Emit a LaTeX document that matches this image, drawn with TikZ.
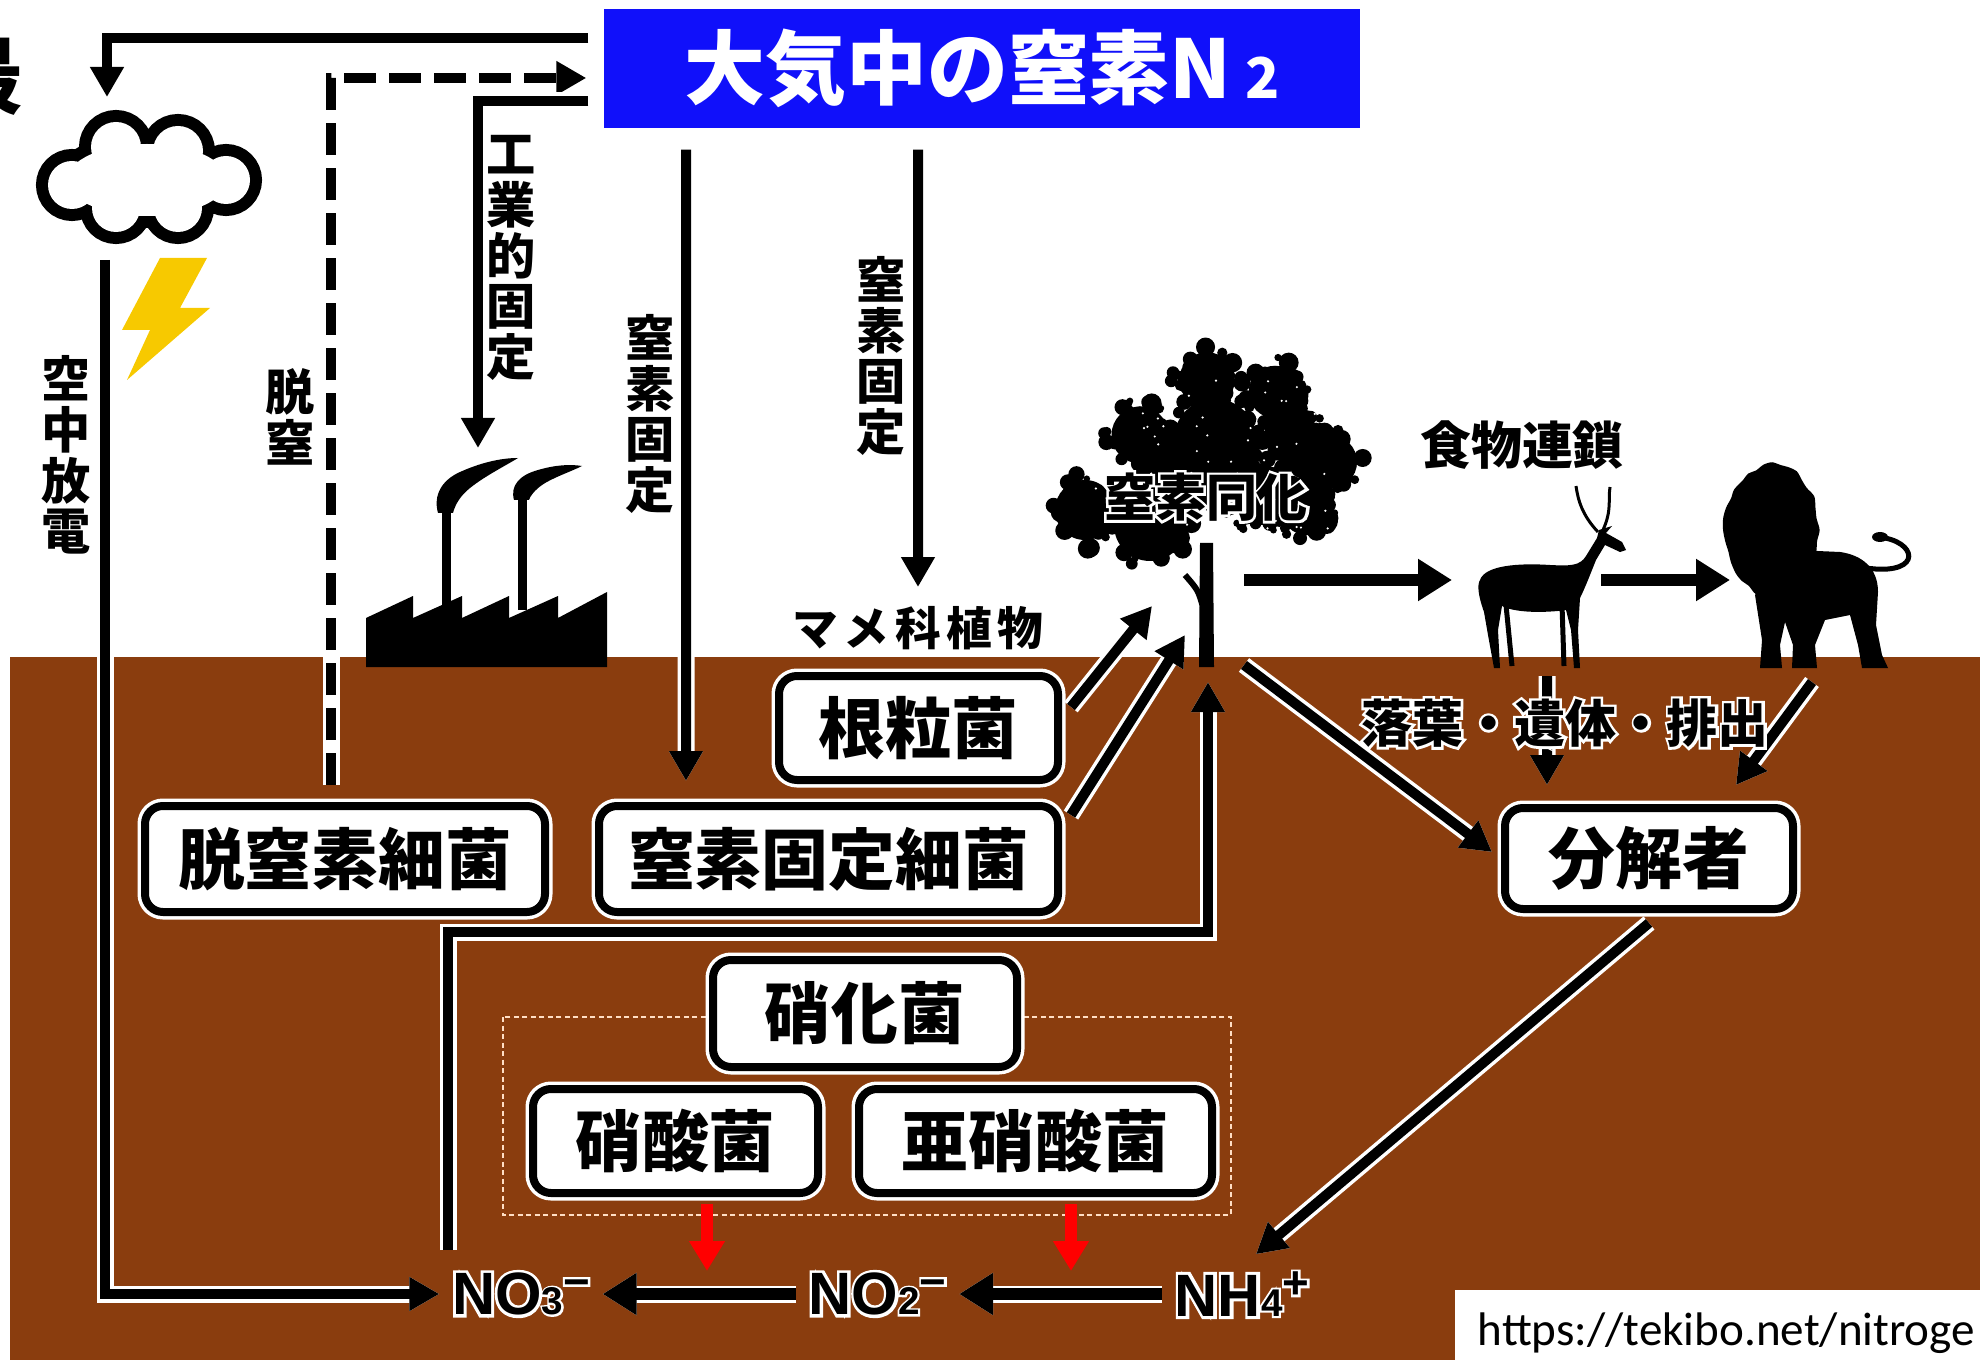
\documentclass[tikz,border=0pt]{standalone}
\usepackage{fontspec}
\usepackage{tikz}
\usetikzlibrary{positioning,arrows.meta,calc}

\newfontfamily\jp{Noto Sans CJK JP}
\newfontfamily\ionfont{Liberation Sans}
\newfontfamily\urlfont{Carlito}

\definecolor{soil}{RGB}{138,61,14}
\definecolor{airblue}{RGB}{16,16,250}
\definecolor{bolt}{RGB}{247,201,0}
\definecolor{peach}{RGB}{255,222,196}

% white rim behind black lettering
\newcommand\halo[1]{\leavevmode\rlap{\color{white}\addfontfeature{FakeBold=10}#1}#1}

\begin{document}
\begin{tikzpicture}[
  box/.style={draw=black, line width=0.08cm, fill=white, rounded corners=0.18cm, minimum height=1.04cm, inner sep=0pt, font=\jp\bfseries\fontsize{19}{20}\selectfont, preaction={draw=white, line width=0.15cm}},
  vlbl/.style={font=\jp\bfseries\fontsize{14}{14.4}\selectfont, align=center, inner sep=0pt},
  lbl/.style={font=\jp\bfseries\fontsize{14.5}{16}\selectfont, inner sep=1pt},
  ion/.style={font=\ionfont\bfseries\fontsize{17}{18}\selectfont, inner sep=0.12cm},
  glow/.style={preaction={draw=white, line width=0.17cm, solid}},
  flow/.style={glow, draw=black, line width=0.1cm, -{Triangle[length=0.3cm, width=0.32cm]}},
  fatflow/.style={glow, draw=black, line width=0.12cm, -{Triangle[length=0.34cm, width=0.4cm]}},
  redflow/.style={draw=red, line width=0.12cm, -{Triangle[length=0.3cm, width=0.34cm]}}
]
\useasboundingbox (0, 0) rectangle (19.80, -13.60);

% ground
\fill[soil] (0.10, -6.57) rectangle (19.80, -13.60);

% cut-off heading at the left edge
\node[font=\jp\bfseries\fontsize{24}{24}\selectfont, inner sep=0pt] (title) at (-0.18, -0.77) {最};

% thundercloud
\fill[white, preaction={draw=black, line width=0.24cm}]
  (1.16, -1.47) circle (0.25) (1.78, -1.51) circle (0.25)
  (0.72, -1.85) circle (0.24) (2.26, -1.80) circle (0.24)
  (1.16, -2.08) circle (0.24) (1.78, -2.08) circle (0.24)
  (1.47, -1.80) ellipse (0.80 and 0.36);
\fill[bolt] (1.60, -2.58) -- (2.07, -2.58) -- (1.80, -3.08) -- (2.10, -3.08) -- (1.27, -3.80) -- (1.50, -3.30) -- (1.22, -3.30) -- cycle;
\coordinate (cloudtop) at (1.07, -0.97);
\coordinate (cloudfoot) at (1.05, -2.60);

% factory
\fill (3.66, -6.67) -- (3.66, -6.18) -- (4.13, -5.96) -- (4.13, -6.18) -- (4.62, -5.96) -- (4.62, -6.18)
  -- (5.09, -5.96) -- (5.09, -6.18) -- (5.58, -5.96) -- (5.58, -6.18) -- (6.07, -5.92) -- (6.07, -6.67) -- cycle;
\fill (4.42, -5.13) rectangle (4.51, -6.10);
\fill (5.18, -5.00) rectangle (5.27, -6.10);
\fill (4.38, -5.13) .. controls (4.33, -4.95) and (4.42, -4.80) .. (4.60, -4.72)
  .. controls (4.80, -4.63) and (5.00, -4.58) .. (5.18, -4.58)
  .. controls (5.05, -4.66) and (4.85, -4.76) .. (4.70, -4.88)
  .. controls (4.60, -4.96) and (4.55, -5.05) .. (4.53, -5.13) -- cycle;
\fill (5.14, -5.00) .. controls (5.10, -4.85) and (5.20, -4.75) .. (5.38, -4.70)
  .. controls (5.55, -4.65) and (5.70, -4.64) .. (5.82, -4.66)
  .. controls (5.70, -4.72) and (5.52, -4.78) .. (5.42, -4.85)
  .. controls (5.35, -4.90) and (5.30, -4.96) .. (5.29, -5.00) -- cycle;
\coordinate (factop) at (4.78, -4.48);

% tree: foliage clumps filled with scattered leaves
\pgfmathsetseed{31}
\foreach \cx/\cy/\r in {12.07/-3.80/0.37, 12.75/-3.92/0.35, 11.40/-4.35/0.38, 12.15/-4.40/0.55,
                        12.95/-4.40/0.35, 13.30/-4.62/0.36, 11.80/-4.85/0.45, 12.60/-4.95/0.40,
                        13.05/-5.12/0.30, 10.85/-5.10/0.40, 11.50/-5.25/0.48}
{
  \fill (\cx, \cy) circle ({0.75*\r});
  \foreach \k in {1,...,45}
    \fill ($(\cx, \cy)+({rnd*360}:{\r*sqrt(rnd)})$) circle ({0.03+rnd*0.07});
}
\foreach \k in {1,...,70}
  \fill[white] ({10.9+rnd*2.5}, {-3.8-rnd*1.6}) circle (0.012);
\fill (12.00, -5.43) -- (12.13, -5.43) -- (12.14, -6.67) -- (11.99, -6.67) -- cycle;
\draw[line width=0.06cm] (12.03, -6.07) .. controls (11.98, -5.90) .. (11.85, -5.75);
\node[lbl] (lblassim) at (12.06, -4.97) {\halo{窒素同化}};
\coordinate (treeroot) at (12.08, -6.82);
\coordinate (root1) at (11.52, -6.06);
\coordinate (root2) at (11.85, -6.35);
\coordinate (treeside) at (12.44, -5.80);
\coordinate (treefoot) at (12.44, -6.65);

% antelope
\fill (14.80, -5.80) .. controls (14.85, -5.65) and (15.20, -5.63) .. (15.50, -5.65)
  .. controls (15.70, -5.66) and (15.80, -5.66) .. (15.86, -5.56)
  -- (15.97, -5.38) -- (15.99, -5.30) -- (16.12, -5.26) -- (16.06, -5.33) -- (16.22, -5.42)
  -- (16.26, -5.50) -- (16.20, -5.52) -- (16.05, -5.45) -- (15.96, -5.60)
  .. controls (15.90, -5.75) and (15.85, -5.88) .. (15.80, -5.98)
  -- (15.78, -6.30) -- (15.80, -6.68) -- (15.74, -6.68) -- (15.71, -6.30) -- (15.66, -6.10)
  .. controls (15.45, -6.13) and (15.15, -6.13) .. (15.02, -6.06)
  -- (14.98, -6.30) -- (15.00, -6.68) -- (14.94, -6.68) -- (14.88, -6.35) -- (14.84, -6.12)
  .. controls (14.78, -5.95) and (14.77, -5.85) .. cycle;
\draw[line width=0.05cm] (15.62, -6.05) -- (15.64, -6.66);
\draw[line width=0.05cm] (15.06, -6.05) -- (15.12, -6.66);
\draw[line width=0.03cm] (15.98, -5.32) .. controls (15.82, -5.15) and (15.78, -5.00) .. (15.76, -4.86);
\draw[line width=0.03cm] (16.03, -5.30) .. controls (16.12, -5.10) and (16.08, -5.00) .. (16.10, -4.87);
\coordinate (deerL) at (14.52, -5.80);
\coordinate (deerR) at (16.01, -5.80);
\coordinate (deerfoot) at (15.47, -6.76);

% lion: ragged mane, body, tail
\fill plot[smooth cycle, domain=0:350, samples=36] ({17.72+(0.45+0.05*rnd)*cos(\x)}, {-5.30+(0.63+0.05*rnd)*sin(\x)});
\fill (17.95, -5.50) -- (18.40, -5.52) .. controls (18.62, -5.55) and (18.78, -5.68) .. (18.78, -5.92)
  -- (18.76, -6.25) -- (18.82, -6.55) -- (18.88, -6.68) -- (18.62, -6.68) -- (18.58, -6.45)
  -- (18.50, -6.15) -- (18.25, -6.20) -- (18.15, -6.45) -- (18.17, -6.68) -- (17.92, -6.68)
  -- (17.93, -6.45) -- (17.85, -6.22) -- (17.80, -6.45) -- (17.82, -6.68) -- (17.60, -6.68)
  -- (17.62, -6.40) -- (17.55, -5.95) -- cycle;
\draw[line width=0.05cm] (18.60, -5.67) .. controls (19.20, -5.78) and (19.20, -5.45) .. (18.85, -5.38);
\fill (18.80, -5.37) ellipse (0.08 and 0.05);
\coordinate (lionL) at (17.30, -5.80);
\coordinate (lionfoot) at (18.12, -6.82);

% nitrifier group frame
\draw[peach, line width=0.02cm, dash pattern=on 0.05cm off 0.035cm] (5.03, -10.17) rectangle (12.31, -12.15);

% boxes
\node[draw=none, fill=airblue, minimum width=7.56cm, minimum height=1.19cm, inner sep=0pt, text=white,
      font=\jp\bfseries\fontsize{23}{24}\selectfont] (air) at (9.82, -0.685) {大気中の窒素N\,{\fontsize{16}{16}\selectfont 2}};
\node[box, minimum width=4.00cm, minimum height=1.06cm] (denit) at (3.45, -8.59) {脱窒素細菌};
\node[box, minimum width=4.59cm, minimum height=1.06cm] (fixb) at (8.285, -8.59) {窒素固定細菌};
\node[box, minimum width=2.79cm] (nodule) at (9.185, -7.28) {根粒菌};
\node[box, minimum width=3.04cm, minimum height=1.07cm] (nitri) at (8.65, -10.135) {硝化菌};
\node[box, minimum width=2.85cm] (nitrob) at (6.755, -11.41) {硝酸菌};
\node[box, minimum width=3.53cm] (nitros) at (10.355, -11.41) {亜硝酸菌};
\node[box, minimum width=2.88cm, minimum height=1.01cm] (decomp) at (16.49, -8.585) {分解者};

% labels
\node[vlbl] (lblspark) at (0.66, -4.55) {空\\中\\放\\電};
\node[vlbl] (lbldenit) at (2.90, -4.17) {脱\\窒};
\node[vlbl] (lblind) at (5.11, -2.58) {工\\業\\的\\固\\定};
\node[vlbl] (lblfixA) at (6.50, -4.14) {窒\\素\\固\\定};
\node[vlbl] (lblfixB) at (8.81, -3.56) {窒\\素\\固\\定};
\node[font=\jp\bfseries\fontsize{13}{14}\selectfont\addfontfeature{LetterSpace=12}, inner sep=1pt] (lbllegume) at (9.18, -6.28) {マメ科植物};
\node[lbl] (lblfood) at (15.22, -4.45) {食物連鎖};

% ions
\node[ion] (no3) at (5.21, -12.94) {\halo{NO{\fontsize{11}{11}\selectfont 3\raisebox{0.45em}{\fontsize{13}{13}\selectfont −}}}};
\node[ion] (no2) at (8.775, -12.94) {\halo{NO{\fontsize{11}{11}\selectfont 2\raisebox{0.45em}{\fontsize{13}{13}\selectfont −}}}};
\node[ion] (nh4) at (12.42, -12.94) {\halo{NH{\fontsize{11}{11}\selectfont 4\raisebox{0.45em}{\fontsize{13}{13}\selectfont +}}}};

% atmosphere
\draw[flow] ([xshift=-0.15cm, yshift=0.305cm]air.west) -| (cloudtop);
\draw[flow, dash pattern=on 0.32cm off 0.13cm] ([xshift=-0.14cm, yshift=0.17cm]denit.north) |- ([xshift=-0.17cm, yshift=-0.095cm]air.west);
\draw[flow] ([xshift=-0.15cm, yshift=-0.325cm]air.west) -| (factop);
\draw[flow] ([xshift=-2.96cm, yshift=-0.21cm]air.south) -- ([xshift=-1.425cm, yshift=0.21cm]fixb.north);
\draw[flow] ([xshift=-0.64cm, yshift=-0.21cm]air.south) -- ([yshift=0.15cm]lbllegume.north);
\draw[flow] (cloudfoot) |- (no3.west);

% uptake by plants
\draw[flow] ([xshift=0.09cm, yshift=0.21cm]nodule.east) -- (root1);
\draw[flow] ([xshift=0.09cm, yshift=0.44cm]fixb.east) -- (root2);
\draw[flow] ([xshift=-0.73cm, yshift=0.1cm]no3.north) |- ([yshift=-2.50cm]treeroot) -- (treeroot);

% food chain and decomposition
\draw[fatflow] (treeside) -- (deerL);
\draw[fatflow] (deerR) -- (lionL);
\draw[flow] (treefoot) -- ([xshift=-0.09cm, yshift=0.065cm]decomp.west);
\draw[flow] (deerfoot) -- ([xshift=-1.02cm, yshift=0.19cm]decomp.north);
\draw[flow] (lionfoot) -- ([xshift=0.87cm, yshift=0.19cm]decomp.north);
\draw[flow] ([yshift=-0.1cm]decomp.south) -- ([xshift=0.14cm, yshift=0.05cm]nh4.north);
\node[lbl] (lbllitter) at (15.65, -7.23) {\halo{落葉・遺体・排出}};

% nitrification
\draw[fatflow] (no2.west) -- (no3.east);
\draw[fatflow] (nh4.west) -- (no2.east);
\draw[redflow] ([xshift=0.315cm, yshift=-0.07cm]nitrob.south) -- ++(0, -0.67);
\draw[redflow] ([xshift=0.355cm, yshift=-0.07cm]nitros.south) -- ++(0, -0.67);

% source line
\fill[white] (14.55, -12.90) rectangle (19.80, -13.60);
\node[anchor=base west, font=\urlfont\fontsize{13.4}{14}\selectfont, inner sep=0pt] (url) at (14.77, -13.45) {https://tekibo.net/nitroge};

\end{tikzpicture}
\end{document}
